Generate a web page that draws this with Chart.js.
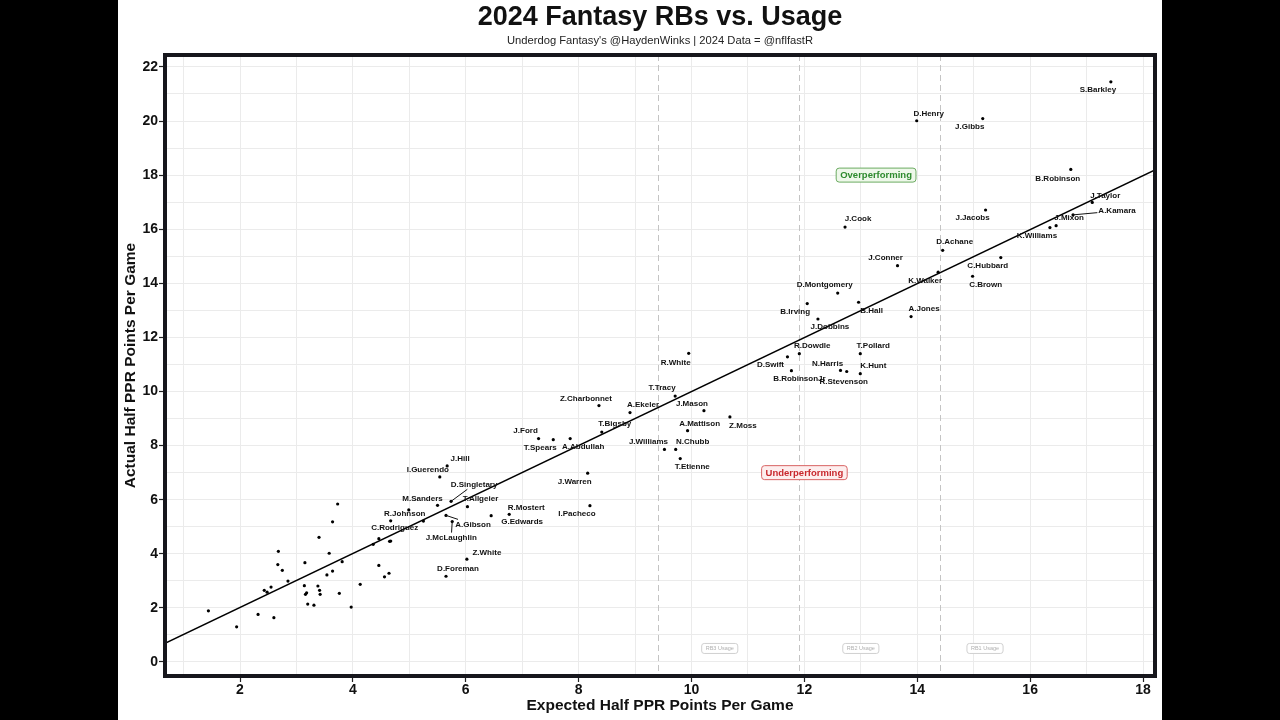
<!DOCTYPE html>
<html>
<head>
<meta charset="utf-8">
<script src="https://cdn.jsdelivr.net/npm/chart.js@4.4.1/dist/chart.umd.min.js"></script>
<style>
html, body { margin: 0; padding: 0; background: #000; }
#frame { position: absolute; left: 118px; top: 0; width: 1044px; height: 720px; background: #fff; }
canvas { display: block; }
</style>
</head>
<body>
<div id="frame"><canvas id="chart" width="1044" height="720"></canvas></div>
<script>
// Données (points attendus vs réels, demi-PPR par match)
const rbNames = [
  '', '', '', '', '', '', '', '', '', '',
  '', '', '', '', '', '', '', '', '', '',
  '', '', '', '', '', '', '', '', '', '',
  '', '', '', '', '', '', '', '',
  'C.Rodriguez', 'R.Johnson', 'M.Sanders', 'I.Guerendo', 'J.Hill', 'D.Singletary', 'A.Gibson', 'J.McLaughlin',
  'T.Allgeier', 'G.Edwards', 'R.Mostert', 'D.Foreman', 'Z.White', 'J.Ford', 'T.Spears', 'A.Abdullah',
  'Z.Charbonnet', 'T.Bigsby', 'A.Ekeler', 'T.Tracy', 'J.Warren', 'I.Pacheco', 'J.Williams', 'N.Chubb',
  'T.Etienne', 'R.White', 'J.Mason', 'A.Mattison', 'Z.Moss', 'D.Swift', 'R.Dowdle', 'B.RobinsonJr',
  'N.Harris', 'R.Stevenson', 'T.Pollard', 'K.Hunt', 'D.Montgomery', 'B.Hall', 'B.Irving', 'J.Dobbins',
  'A.Jones', 'J.Conner', 'K.Walker', 'D.Achane', 'C.Brown', 'C.Hubbard', 'J.Cook', 'J.Jacobs',
  'K.Williams', 'J.Mixon', 'A.Kamara', 'J.Taylor', 'B.Robinson', 'J.Gibbs', 'D.Henry', 'S.Barkley'
];
const rbExpected = [
  1.44, 1.94, 2.32, 2.60, 2.43, 2.48, 2.55, 2.68, 2.67, 2.75,
  2.85, 3.15, 3.14, 3.16, 3.18, 3.20, 3.31, 3.38, 3.41, 3.42,
  3.40, 3.54, 3.58, 3.64, 3.64, 3.73, 3.76, 3.81, 3.97, 4.13,
  4.36, 4.46, 4.46, 4.56, 4.64, 4.65, 4.67, 5.25,
  4.67, 4.99, 5.50, 5.54, 5.67, 5.74, 5.65, 5.76,
  6.03, 6.45, 6.77, 5.65, 6.02, 7.29, 7.55, 7.85,
  8.36, 8.41, 8.91, 9.71, 8.16, 8.20, 9.52, 9.72,
  9.80, 9.95, 10.22, 9.93, 10.68, 11.70, 11.91, 11.77,
  12.64, 12.75, 12.99, 12.99, 12.59, 12.96, 12.05, 12.24,
  13.89, 13.65, 14.37, 14.45, 14.98, 15.48, 12.72, 15.21,
  16.35, 16.46, 16.76, 17.10, 16.72, 15.16, 13.99, 17.43
];
const rbActual = [
  1.89, 1.30, 1.76, 1.64, 2.65, 2.58, 2.77, 4.09, 3.60, 3.39,
  2.99, 3.67, 2.82, 2.50, 2.56, 2.14, 2.10, 2.81, 2.65, 2.50,
  4.61, 3.22, 4.02, 3.36, 5.18, 5.84, 2.54, 3.71, 2.03, 2.87,
  4.35, 4.56, 3.57, 3.15, 3.28, 4.46, 4.47, 5.21,
  5.22, 5.62, 5.79, 6.84, 7.25, 5.94, 5.42, 5.19,
  5.74, 5.41, 5.46, 3.17, 3.80, 8.26, 8.22, 8.26,
  9.48, 8.50, 9.22, 9.83, 6.98, 5.78, 7.86, 7.86,
  7.52, 11.41, 9.29, 8.55, 9.06, 11.28, 11.40, 10.77,
  10.78, 10.74, 11.40, 10.66, 13.64, 13.30, 13.25, 12.68,
  12.77, 14.65, 14.41, 15.22, 14.26, 14.95, 16.08, 16.71,
  16.06, 16.13, 16.53, 16.99, 18.21, 20.09, 20.01, 21.45
];

// Droite de tendance (extrémités)
const trendX = [0.671, 18.212];
const trendY = [0.69, 18.19];

// Seuils d'usage RB3 / RB2 / RB1
const usageCuts = [9.4, 11.9, 14.4];
const usageLabels = ['RB3 Usage', 'RB2 Usage', 'RB1 Usage'];
const usageLabelX = [10.5, 13.0, 15.2];
const usageLabelY = 0.5;

const perfLabels = ['Overperforming', 'Underperforming'];
const perfX = [13.27, 12.0];
const perfY = [18.0, 7.0];

// Bornes des axes
const xMin = 0.671, xMax = 18.212;
const yMin = -0.518, yMax = 22.44;

// Décalage des étiquettes (px) par rapport au point
const labelNudge = {
  'S.Barkley': [-13, 8], 'D.Henry': [12, -7], 'J.Gibbs': [-13, 8], 'B.Robinson': [-13, 9],
  'J.Taylor': [13, -7], 'A.Kamara': [44, -4], 'J.Mixon': [13, -8], 'K.Williams': [-13, 8],
  'J.Jacobs': [-13, 8], 'J.Cook': [13, -8], 'D.Achane': [12, -8], 'J.Conner': [-12, -8],
  'C.Hubbard': [-13, 8], 'C.Brown': [13, 9], 'K.Walker': [-13, 9], 'D.Montgomery': [-13, -8],
  'B.Irving': [-12, 8], 'B.Hall': [13, 9], 'J.Dobbins': [12, 8], 'A.Jones': [13, -8],
  'R.Dowdle': [13, -8], 'D.Swift': [-17, 8], 'B.RobinsonJr': [8, 8], 'N.Harris': [-13, -7],
  'R.Stevenson': [-3, 10], 'T.Pollard': [13, -8], 'K.Hunt': [13, -8], 'R.White': [-13, 9],
  'T.Tracy': [-13, -8], 'J.Mason': [-12, -7], 'A.Mattison': [12, -7], 'Z.Moss': [13, 9],
  'J.Williams': [-16, -8], 'N.Chubb': [17, -8], 'T.Etienne': [12, 8], 'A.Ekeler': [13, -8],
  'Z.Charbonnet': [-13, -7], 'T.Bigsby': [13, -8], 'J.Ford': [-13, -8], 'T.Spears': [-13, 8],
  'A.Abdullah': [13, 8], 'J.Warren': [-13, 9], 'I.Pacheco': [-13, 8], 'J.Hill': [13, -7],
  'I.Guerendo': [-12, -7], 'D.Singletary': [23, -17], 'M.Sanders': [-15, -7], 'T.Allgeier': [13, -8],
  'R.Johnson': [-4, 4], 'C.Rodriguez': [4, 7], 'A.Gibson': [27, 9], 'J.McLaughlin': [-1, 16],
  'R.Mostert': [17, -7], 'G.Edwards': [31, 6], 'Z.White': [20, -6], 'D.Foreman': [12, -7]
};
const leaderNames = ['D.Singletary', 'A.Gibson', 'J.McLaughlin', 'A.Kamara'];

const FONT = "'Liberation Sans', Arial, Helvetica, sans-serif";

function boxLabel(ctx, text, cx, cy, opts) {
  ctx.font = opts.font;
  const w = ctx.measureText(text).width + opts.padX * 2;
  const h = opts.h;
  ctx.beginPath();
  ctx.roundRect(cx - w / 2, cy - h / 2, w, h, opts.r);
  ctx.fillStyle = opts.fill;
  ctx.fill();
  ctx.lineWidth = 1;
  ctx.strokeStyle = opts.stroke;
  ctx.stroke();
  ctx.fillStyle = opts.color;
  ctx.textAlign = 'center';
  ctx.textBaseline = 'middle';
  ctx.fillText(text, cx, cy + 0.5);
}

// Lignes pointillées d'usage + étiquettes RB
const usagePlugin = {
  id: 'usage',
  beforeDatasetsDraw(chart) {
    const { ctx, chartArea, scales: { x, y } } = chart;
    ctx.save();
    ctx.strokeStyle = '#c4c4c4';
    ctx.lineWidth = 1;
    ctx.setLineDash([6, 4]);
    usageCuts.forEach(v => {
      const px = Math.round(x.getPixelForValue(v)) + 0.5;
      ctx.beginPath();
      ctx.moveTo(px, chartArea.top);
      ctx.lineTo(px, chartArea.bottom);
      ctx.stroke();
    });
    ctx.setLineDash([]);
    usageLabels.forEach((t, i) => {
      boxLabel(ctx, t, x.getPixelForValue(usageLabelX[i]), y.getPixelForValue(usageLabelY), {
        font: '5.5px ' + FONT, padX: 4, h: 10, r: 2.5,
        fill: '#ffffff', stroke: '#d0d0d0', color: '#b0b0b0'
      });
    });
    ctx.restore();
  }
};

// Noms des joueurs + boîtes Over/Under
const labelPlugin = {
  id: 'names',
  afterDatasetsDraw(chart) {
    const { ctx, scales: { x, y } } = chart;
    ctx.save();
    ctx.font = 'bold 8px ' + FONT;
    ctx.textAlign = 'center';
    ctx.textBaseline = 'middle';
    rbNames.forEach((name, i) => {
      if (!name || !labelNudge[name]) return;
      const px = x.getPixelForValue(rbExpected[i]);
      const py = y.getPixelForValue(rbActual[i]);
      const [dx, dy] = labelNudge[name];
      const cx = px + dx, cy = py + dy;
      if (leaderNames.includes(name)) {
        const hw = ctx.measureText(name).width / 2 + 1, hh = 5;
        const s = Math.min(dx ? hw / Math.abs(dx) : 99, dy ? hh / Math.abs(dy) : 99);
        ctx.strokeStyle = '#111';
        ctx.lineWidth = 1;
        ctx.beginPath();
        ctx.moveTo(px, py);
        ctx.lineTo(cx - dx * s, cy - dy * s);
        ctx.stroke();
      }
      ctx.fillStyle = '#111';
      ctx.fillText(name, cx, cy);
    });

    const perfStyle = [
      { fill: '#eef8ea', stroke: '#6cab62', color: '#2d8a2d' },
      { fill: '#fdeeee', stroke: '#d86464', color: '#c8282d' }
    ];
    perfLabels.forEach((t, i) => {
      boxLabel(ctx, t, x.getPixelForValue(perfX[i]), y.getPixelForValue(perfY[i]), Object.assign({
        font: 'bold 9.5px ' + FONT, padX: 4, h: 14, r: 3
      }, perfStyle[i]));
    });
    ctx.restore();
  }
};

// Cadre noir épais + titres (centrés sur le panneau)
const framePlugin = {
  id: 'frame',
  afterDraw(chart) {
    const { ctx, chartArea: a } = chart;
    const mid = (a.left + a.right) / 2;
    ctx.save();
    ctx.strokeStyle = '#16161c';
    ctx.lineWidth = 4;
    ctx.strokeRect(a.left, a.top, a.right - a.left, a.bottom - a.top);
    ctx.fillStyle = '#111';
    ctx.textAlign = 'center';
    ctx.textBaseline = 'middle';
    ctx.font = 'bold 27px ' + FONT;
    ctx.fillText('2024 Fantasy RBs vs. Usage', mid, 18);
    ctx.font = '11.2px ' + FONT;
    ctx.fillStyle = '#222';
    ctx.fillText("Underdog Fantasy's @HaydenWinks | 2024 Data = @nflfastR", mid, 41);
    ctx.restore();
  }
};

const tickMark = c => (c.tick && Math.round(c.tick.value) % 2 === 0) ? '#222' : 'rgba(0,0,0,0)';
const evenOnly = v => (Math.round(v) % 2 === 0 ? v : '');

new Chart(document.getElementById('chart'), {
  type: 'scatter',
  data: {
    datasets: [
      {
        data: trendX.map((v, i) => ({ x: v, y: trendY[i] })),
        showLine: true,
        borderColor: '#000',
        borderWidth: 1.4,
        pointRadius: 0,
        order: 2
      },
      {
        data: rbExpected.map((v, i) => ({ x: v, y: rbActual[i] })),
        pointRadius: 1.6,
        backgroundColor: '#000',
        borderWidth: 0,
        order: 1
      }
    ]
  },
  options: {
    responsive: false,
    animation: false,
    devicePixelRatio: 1,
    layout: { padding: { top: 55, right: 7, left: 0, bottom: 0 } },
    plugins: { legend: { display: false }, tooltip: { enabled: false } },
    scales: {
      x: {
        type: 'linear',
        min: xMin,
        max: xMax,
        afterFit(s) { s.height = 44; },
        border: { display: false },
        grid: { color: '#ebebeb', lineWidth: 1, tickLength: 6, tickColor: tickMark, tickWidth: 1.2 },
        ticks: {
          stepSize: 1, includeBounds: false, autoSkip: false, maxRotation: 0, padding: 0,
          color: '#111', font: { family: FONT, size: 14, weight: 'bold' }, callback: evenOnly
        },
        title: {
          display: true, text: 'Expected Half PPR Points Per Game', color: '#111',
          font: { family: FONT, size: 15.5, weight: 'bold' }, padding: { top: 0, bottom: 5 }
        }
      },
      y: {
        type: 'linear',
        min: yMin,
        max: yMax,
        afterFit(s) { s.width = 47; },
        border: { display: false },
        grid: { color: '#ebebeb', lineWidth: 1, tickLength: 6, tickColor: tickMark, tickWidth: 1.2 },
        ticks: {
          stepSize: 1, includeBounds: false, autoSkip: false, padding: 1,
          color: '#111', font: { family: FONT, size: 14, weight: 'bold' }, callback: evenOnly
        },
        title: {
          display: true, text: 'Actual Half PPR Points Per Game', color: '#111',
          font: { family: FONT, size: 15.5, weight: 'bold' }, padding: { top: 3, bottom: 0 }
        }
      }
    }
  },
  plugins: [usagePlugin, labelPlugin, framePlugin]
});
</script>
</body>
</html>
